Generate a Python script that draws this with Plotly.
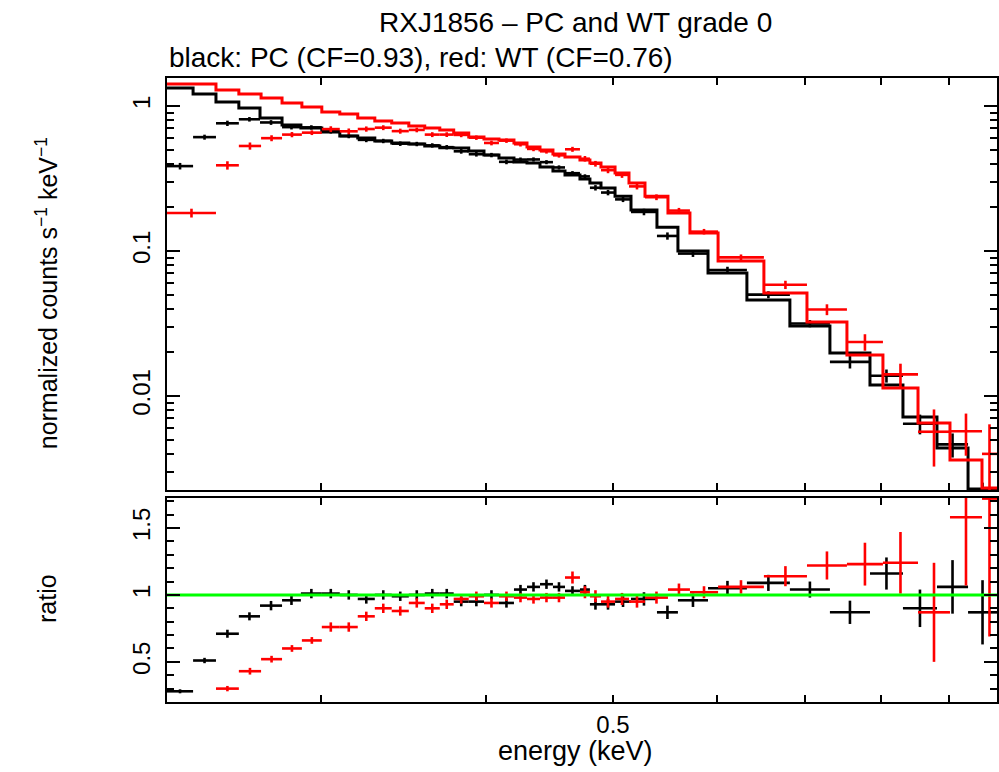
import numpy as np
import plotly.graph_objects as go

# ---------------- data ----------------
# PC (black): channel-bin edges in keV
pc_edges = [0.2290, 0.2397, 0.2495, 0.2597, 0.2695, 0.2801, 0.2895, 0.3003, 0.3099, 0.3198,
            0.3295, 0.3394, 0.3497, 0.3596, 0.3692, 0.3783, 0.3884, 0.3989, 0.4095, 0.4204,
            0.4301, 0.4400, 0.4501, 0.4597, 0.4719, 0.4802, 0.4896, 0.5018, 0.5160, 0.5400,
            0.5602, 0.5905, 0.6321, 0.6815, 0.7310, 0.7841, 0.8307, 0.8817, 0.9310, 0.9794]
pc_model = [1.331, 1.210, 1.066, 0.969, 0.826, 0.740, 0.705, 0.662, 0.621, 0.602,
            0.574, 0.556, 0.547, 0.530, 0.515, 0.513, 0.489, 0.459, 0.438, 0.411,
            0.404, 0.380, 0.356, 0.334, 0.314, 0.294, 0.272, 0.239, 0.192, 0.146,
            0.100, 0.0705, 0.0459, 0.0304, 0.0198, 0.0119, 0.00716, 0.00438, 0.00228]
pc_data = [0.385, 0.61, 0.76, 0.81, 0.77, 0.715, 0.712, 0.669, 0.621, 0.584,
           0.574, 0.550, 0.547, 0.535, 0.520, 0.487, 0.465, 0.459, 0.412, 0.427,
           0.428, 0.410, 0.377, 0.344, 0.327, 0.273, 0.253, 0.227, 0.186, 0.127,
           0.096, 0.0740, 0.0500, 0.0316, 0.0172, 0.0138, 0.00644, 0.00464, 0.00198]
pc_ratio = [0.28, 0.51, 0.71, 0.84, 0.92, 0.96, 1.01, 1.01, 1.00, 0.97,
            1.00, 0.99, 1.00, 1.01, 1.01, 0.95, 0.95, 1.00, 0.94, 1.04,
            1.06, 1.08, 1.06, 1.03, 1.04, 0.93, 0.93, 0.95, 0.97, 0.87,
            0.96, 1.05, 1.09, 1.04, 0.87, 1.16, 0.90, 1.06, 0.87]
pc_ratio_err = [0.015, 0.02, 0.03, 0.03] + [0.035] * 21 + [0.04] * 3 + [0.05] * 3 + \
               [0.055, 0.06, 0.06, 0.087, 0.12, 0.14, 0.20, 0.24]

# WT (red)
wt_edges = [0.2290, 0.2495, 0.2597, 0.2700, 0.2801, 0.2900, 0.3003, 0.3099, 0.3198, 0.3295,
            0.3394, 0.3497, 0.3596, 0.3692, 0.3783, 0.3884, 0.3989, 0.4095, 0.4204, 0.4301,
            0.4400, 0.4501, 0.4597, 0.4719, 0.4802, 0.4896, 0.5018, 0.5142, 0.5288, 0.5505,
            0.5721, 0.6010, 0.6512, 0.7022, 0.7531, 0.8021, 0.8529, 0.9020, 0.9540, 0.9794]
wt_model = [1.418, 1.289, 1.210, 1.135, 1.049, 0.984, 0.909, 0.881, 0.826, 0.788,
            0.763, 0.728, 0.705, 0.683, 0.651, 0.611, 0.592, 0.583, 0.556, 0.521,
            0.497, 0.467, 0.445, 0.424, 0.404, 0.380, 0.345, 0.294, 0.239, 0.183,
            0.133, 0.0853, 0.0513, 0.0324, 0.0192, 0.01136, 0.00651, 0.00362, 0.00232]
wt_data = [0.183, 0.39, 0.53, 0.60, 0.635, 0.655, 0.693, 0.669, 0.694, 0.709,
           0.671, 0.684, 0.635, 0.635, 0.632, 0.605, 0.556, 0.577, 0.545, 0.506,
           0.487, 0.457, 0.503, 0.433, 0.400, 0.361, 0.335, 0.279, 0.235, 0.190,
           0.136, 0.0904, 0.0585, 0.0395, 0.0236, 0.01409, 0.00567, 0.00572, 0.00399]
wt_ratio = [0.129, 0.30, 0.43, 0.52, 0.60, 0.66, 0.76, 0.76, 0.84, 0.90,
            0.88, 0.94, 0.90, 0.93, 0.97, 0.99, 0.94, 0.99, 0.98, 0.97,
            0.98, 0.98, 1.13, 1.02, 0.99, 0.95, 0.97, 0.95, 0.98, 1.04,
            1.02, 1.06, 1.14, 1.22, 1.23, 1.24, 0.87, 1.58, 1.72]
wt_ratio_err = [0.009, 0.02, 0.025, 0.025, 0.025, 0.025] + [0.035] * 16 + [0.045] * 9 + \
               [0.05, 0.075, 0.105, 0.16, 0.23, 0.37, 0.51, 1.03]

x_major = [0.3, 0.4, 0.5, 0.6, 0.7, 0.8, 0.9]
x_labels = ["", "", "0.5", "", "", "", ""]
y_major = [0.01, 0.1, 1]
y_labels = ["0.01", "0.1", "1"]
r_major = [0.5, 1.0, 1.5]
r_labels = ["0.5", "1", "1.5"]

FONT = "Liberation Sans"
LW = 3
EW = 2.6


def bins(edges):
    lo = np.array(edges[:-1])
    hi = np.array(edges[1:])
    c = np.sqrt(lo * hi)
    return lo, hi, c


fig = go.Figure()


def add_series(edges, model, data, ratio, rerr, color):
    lo, hi, c = bins(edges)
    model = np.array(model)
    derr = np.array(rerr) * model
    fig.add_trace(go.Scatter(
        x=c, y=data, mode="markers", marker=dict(size=1, color=color),
        error_x=dict(type="data", symmetric=False, array=hi - c, arrayminus=c - lo,
                     width=0, thickness=EW, color=color),
        error_y=dict(type="data", array=derr, width=0, thickness=EW, color=color),
        xaxis="x", yaxis="y", hoverinfo="skip"))
    fig.add_trace(go.Scatter(
        x=list(lo) + [hi[-1]], y=list(model) + [model[-1]], mode="lines",
        line=dict(color=color, width=LW, shape="hv"), xaxis="x", yaxis="y",
        hoverinfo="skip"))
    fig.add_trace(go.Scatter(
        x=c, y=ratio, mode="markers", marker=dict(size=1, color=color),
        error_x=dict(type="data", symmetric=False, array=hi - c, arrayminus=c - lo,
                     width=0, thickness=EW, color=color),
        error_y=dict(type="data", array=rerr, width=0, thickness=EW, color=color),
        xaxis="x2", yaxis="y2", hoverinfo="skip"))


add_series(pc_edges, pc_model, pc_data, pc_ratio, pc_ratio_err, "#000000")
add_series(wt_edges, wt_model, wt_data, wt_ratio, wt_ratio_err, "#ff0000")

fig.add_trace(go.Scatter(x=[pc_edges[0], pc_edges[-1]], y=[1, 1], mode="lines",
                         line=dict(color="#00ff00", width=3), xaxis="x2", yaxis="y2",
                         hoverinfo="skip"))

xr = [np.log10(0.2290), np.log10(0.9794)]
y_minor = [m * 10.0 ** k for k in (-3, -2, -1) for m in range(2, 10) if m * 10.0 ** k > 0.0022]
r_minor = [round(0.1 * i, 1) for i in range(2, 18) if round(0.1 * i, 1) not in (0.5, 1.0, 1.5)]

axis_common = dict(showline=True, linecolor="black", linewidth=2, mirror="ticks",
                   ticks="inside", tickcolor="black", tickwidth=2, showgrid=False,
                   zeroline=False, automargin=False,
                   tickfont=dict(family=FONT, size=24, color="black"))

fig.update_layout(
    width=999, height=772,
    margin=dict(l=167, r=2, t=78, b=70, autoexpand=False),
    paper_bgcolor="white", plot_bgcolor="white",
    showlegend=False,
    xaxis=dict(type="log", range=xr, domain=[0, 1], anchor="y",
               tickmode="array", tickvals=x_major, ticktext=[""] * len(x_major),
               ticklen=7, **axis_common),
    yaxis=dict(type="log", range=[np.log10(0.002247), np.log10(1.56)],
               domain=[0.3397, 1.0], anchor="x",
               tickmode="array", tickvals=y_major, ticktext=y_labels, tickangle=-90,
               ticklen=13, ticklabelstandoff=5,
               minor=dict(tickmode="array", tickvals=y_minor, ticklen=7, ticks="inside",
                          tickwidth=2, tickcolor="black"),
               **axis_common),
    xaxis2=dict(type="log", range=xr, domain=[0, 1], anchor="y2", matches="x",
                tickmode="array", tickvals=x_major, ticktext=x_labels,
                ticklen=7, ticklabelstandoff=0, **axis_common),
    yaxis2=dict(range=[0.2, 1.724], domain=[0.0, 0.3269], anchor="x2",
                tickmode="array", tickvals=r_major, ticktext=r_labels, tickangle=-90,
                ticklen=13, ticklabelstandoff=5,
                minor=dict(tickmode="array", tickvals=r_minor, ticklen=7, ticks="inside",
                           tickwidth=2, tickcolor="black"),
                **axis_common),
)

fig.add_annotation(text="RXJ1856 \u2013 PC and WT grade 0", xref="paper", yref="paper",
                   x=0.4916, y=1.0897, xanchor="center", yanchor="middle",
                   showarrow=False, font=dict(family=FONT, size=28, color="black"))
fig.add_annotation(text="black: PC (CF=0.93), red: WT (CF=0.76)", xref="paper", yref="paper",
                   x=0.0, y=1.0321, xanchor="left", yanchor="middle",
                   showarrow=False, font=dict(family=FONT, size=28, color="black"))
fig.add_annotation(text="normalized counts s<sup>\u22121</sup> keV<sup>\u22121</sup>",
                   xref="paper", yref="paper", x=-0.1446, y=0.655, xanchor="center",
                   yanchor="middle", textangle=-90, showarrow=False,
                   font=dict(family=FONT, size=25, color="black"))
fig.add_annotation(text="ratio", xref="paper", yref="paper", x=-0.1446, y=0.1667,
                   xanchor="center", yanchor="middle", textangle=-90, showarrow=False,
                   font=dict(family=FONT, size=25, color="black"))
fig.add_annotation(text="energy (keV)", xref="paper", yref="paper", x=0.4916, y=-0.0785,
                   xanchor="center", yanchor="middle", showarrow=False,
                   font=dict(family=FONT, size=27, color="black"))

fig.write_html("out.html", config={"displayModeBar": False, "staticPlot": True},
               post_script="document.body.style.margin='0px';document.body.style.overflow='hidden';")
